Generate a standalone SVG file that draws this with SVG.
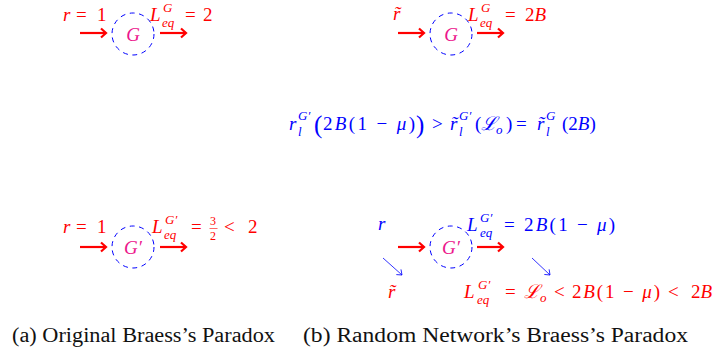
<svg xmlns="http://www.w3.org/2000/svg" width="715" height="354" viewBox="0 0 715 354">
<style>
.m{font-family:'Liberation Serif','DejaVu Serif',serif;font-size:19px}
.i{font-style:italic}
.s{font-size:13px}
.f{font-size:12px}
.big{font-size:25px}
.red{fill:#FF0000}
.blue{fill:#0000FF}
.mag{fill:#EC168C;text-anchor:middle}
.cap{font-family:'Liberation Serif','DejaVu Serif',serif;font-size:20px;fill:#111}
.node{fill:none;stroke:#0000FF;stroke-width:1;stroke-dasharray:5 4.5}
.ra{stroke:#FF0000;stroke-width:2.2;fill:none;marker-end:url(#ahr)}
.ba{stroke:#0000FF;stroke-width:0.8;fill:none;marker-end:url(#ahb)}
</style>
<defs>
<marker id="ahr" viewBox="-7 -6 9 12" markerWidth="9" markerHeight="12" refX="0" refY="0" orient="auto" markerUnits="userSpaceOnUse">
<path d="M-5,-4.5 L0,0 L-5,4.5" fill="none" stroke="#FF0000" stroke-width="2.2"/>
</marker>
<marker id="ahb" viewBox="-6 -5 8 10" markerWidth="8" markerHeight="10" refX="0" refY="0" orient="auto" markerUnits="userSpaceOnUse">
<path d="M-4.5,-3.5 L0,0 L-4.5,3.5" fill="none" stroke="#0000FF" stroke-width="0.8"/>
</marker>
</defs>
<rect width="715" height="354" fill="#fff"/>

<g id="node-a-top"><circle class="node" cx="133" cy="34" r="21"/><text class="m i mag" x="133" y="41">G</text></g>
<g id="node-b-top"><circle class="node" cx="451" cy="34" r="21"/><text class="m i mag" x="451" y="41">G</text></g>
<g id="node-a-bot"><circle class="node" cx="133" cy="247" r="21"/><text class="m i mag" x="133" y="254">G′</text></g>
<g id="node-b-bot"><circle class="node" cx="451" cy="247" r="21"/><text class="m i mag" x="451" y="254">G′</text></g>

<g id="connectors">
<line class="ra" x1="80" y1="33" x2="106" y2="33"/>
<line class="ra" x1="160" y1="33" x2="186" y2="33"/>
<line class="ra" x1="398" y1="33" x2="424" y2="33"/>
<line class="ra" x1="477" y1="33" x2="503" y2="33"/>
<line class="ra" x1="80" y1="247" x2="106" y2="247"/>
<line class="ra" x1="160" y1="247" x2="186" y2="247"/>
<line class="ra" x1="398" y1="247" x2="424" y2="247"/>
<line class="ra" x1="477" y1="247" x2="503" y2="247"/>
<line class="ba" x1="383" y1="258" x2="402" y2="275"/>
<line class="ba" x1="532" y1="258" x2="550" y2="275"/>
</g>

<g id="labels-a-top" class="m red">
<text y="21"><tspan x="63" class="i">r</tspan><tspan x="76">=</tspan><tspan x="97">1</tspan></text>
<text x="150" y="21" class="i">L</text>
<text x="163" y="12" class="i s">G</text>
<text x="162" y="27" class="i s">eq</text>
<text x="185" y="21">=</text>
<text x="203" y="21">2</text>
</g>

<g id="labels-b-top" class="m red">
<text x="393" y="20" class="i">r̃</text>
<text x="468" y="21" class="i">L</text>
<text x="481" y="12" class="i s">G</text>
<text x="480" y="27" class="i s">eq</text>
<text x="505" y="21">=</text>
<text x="525" y="21">2<tspan class="i">B</tspan></text>
</g>

<g id="label-middle" class="m blue">
<text x="289" y="130" class="i">r</text>
<text x="298" y="120" class="i s">G′</text>
<text x="298" y="136" class="i s">l</text>
<text x="314" y="133" class="big">(</text>
<text x="323" y="130" textLength="92" lengthAdjust="spacing">2<tspan class="i">B</tspan>(1 − <tspan class="i">μ</tspan>)</text>
<text x="416" y="133" class="big">)</text>
<text x="432" y="130">&gt;</text>
<text x="450" y="130" class="i">r̃</text>
<text x="459" y="120" class="i s">G′</text>
<text x="459" y="136" class="i s">l</text>
<text x="475" y="130">(</text>
<text x="481" y="130" class="i">ℒ</text>
<text x="496" y="134" class="i s">o</text>
<text x="506" y="130">)</text>
<text x="516" y="130">=</text>
<text x="537" y="130" class="i">r̃</text>
<text x="546" y="120" class="i s">G</text>
<text x="546" y="136" class="i s">l</text>
<text x="562" y="130">(2<tspan class="i">B</tspan>)</text>
</g>

<g id="labels-a-bot" class="m red">
<text y="233"><tspan x="63" class="i">r</tspan><tspan x="76">=</tspan><tspan x="97">1</tspan></text>
<text x="152" y="233" class="i">L</text>
<text x="165" y="224" class="i s">G′</text>
<text x="164" y="239" class="i s">eq</text>
<text x="191" y="233">=</text>
<text x="210" y="225" class="f">3</text>
<line x1="209.5" y1="228.5" x2="217.5" y2="228.5" stroke="#FF0000" stroke-width="0.6"/>
<text x="210" y="240" class="f">2</text>
<text x="224" y="233">&lt;</text>
<text x="248" y="233">2</text>
</g>

<g id="labels-b-bot">
<g class="m blue">
<text x="378" y="230" class="i">r</text>
<text x="467" y="231" class="i">L</text>
<text x="480" y="222" class="i s">G′</text>
<text x="480" y="237" class="i s">eq</text>
<text x="504" y="231">=</text>
<text x="524" y="231" textLength="91" lengthAdjust="spacing">2<tspan class="i">B</tspan>(1 − <tspan class="i">μ</tspan>)</text>
</g>
<g class="m red">
<text x="388" y="298" class="i">r̃</text>
<text x="464" y="298" class="i">L</text>
<text x="478" y="289" class="i s">G′</text>
<text x="477" y="304" class="i s">eq</text>
<text x="505" y="298">=</text>
<text x="524" y="298" class="i">ℒ</text>
<text x="540" y="302" class="i s">o</text>
<text x="554" y="298">&lt;</text>
<text x="572" y="298" textLength="88" lengthAdjust="spacing">2<tspan class="i">B</tspan>(1 − <tspan class="i">μ</tspan>)</text>
<text x="668" y="298">&lt;</text>
<text x="712" y="298" text-anchor="end">2<tspan class="i">B</tspan></text>
</g>
</g>

<g id="captions">
<text class="cap" x="12" y="342" textLength="263" lengthAdjust="spacingAndGlyphs">(a) Original Braess’s Paradox</text>
<text class="cap" x="303" y="342" textLength="385" lengthAdjust="spacingAndGlyphs">(b) Random Network’s Braess’s Paradox</text>
</g>
</svg>
